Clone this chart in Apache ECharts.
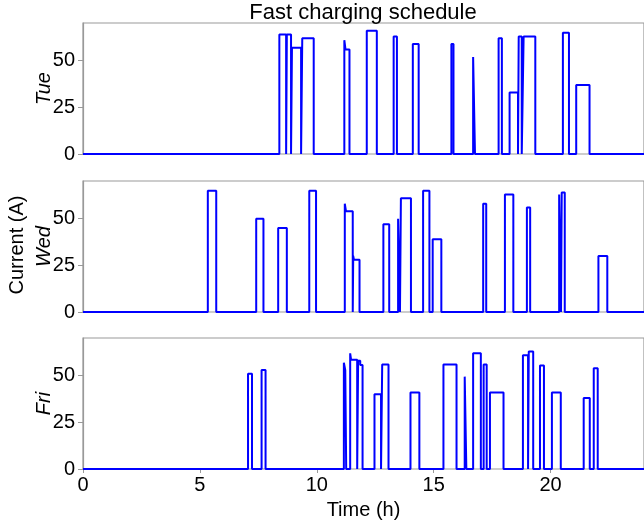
<!DOCTYPE html>
<html>
<head>
<meta charset="utf-8">
<script src="https://cdn.jsdelivr.net/npm/echarts@6/dist/echarts.min.js"></script>
<style>
html,body{margin:0;padding:0;background:#fff;}
#chart{width:644px;height:522px;}
</style>
</head>
<body>
<div id="chart"></div>
<script>
// Step change points: time (h) and current (A) that holds until the next point
const tueTime = [0, 8.40, 8.69, 8.72, 8.90, 8.94, 9.33, 9.38, 9.87, 11.18, 11.23, 11.40, 12.14, 12.57, 13.29, 13.43, 14.11, 14.36, 15.76, 15.85, 16.69, 16.77, 17.78, 17.92, 18.25, 18.61, 18.64, 18.77, 18.85, 19.35, 20.53, 20.79, 21.10, 21.67, 24];
const tueCurrent = [0, 64, 0, 64, 0, 57, 0, 62, 0, 61, 56, 0, 66, 0, 63, 0, 59, 0, 59, 0, 52, 0, 62, 0, 33, 0, 63, 0, 63, 0, 65, 0, 37, 0, 0];

const wedTime = [0, 5.34, 5.70, 7.41, 7.72, 8.35, 8.72, 9.68, 9.97, 11.20, 11.25, 11.54, 11.56, 11.59, 11.83, 12.85, 13.10, 13.48, 13.56, 13.60, 14.03, 14.55, 14.82, 14.96, 15.33, 17.12, 17.25, 18.05, 18.41, 18.99, 19.13, 20.37, 20.45, 20.48, 20.61, 22.05, 22.43, 24];
const wedCurrent = [0, 65, 0, 50, 0, 45, 0, 65, 0, 58, 54, 0, 30, 28, 0, 47, 0, 50, 0, 61, 0, 65, 0, 39, 0, 58, 0, 63, 0, 56, 0, 63, 0, 64, 0, 30, 0, 0];

const friTime = [0, 7.06, 7.23, 7.64, 7.81, 11.16, 11.22, 11.26, 11.43, 11.47, 11.73, 11.77, 11.86, 11.96, 12.47, 12.75, 12.80, 13.07, 14.01, 14.39, 15.42, 15.98, 16.33, 16.40, 16.69, 17.02, 17.14, 17.27, 17.41, 17.99, 18.82, 19.04, 19.07, 19.26, 19.55, 19.72, 20.06, 20.44, 21.42, 21.68, 21.85, 22.02, 24];
const friCurrent = [0, 51, 0, 53, 0, 57, 53, 0, 62, 58.5, 0, 58, 55.7, 0, 40, 0, 56, 0, 41, 0, 56, 0, 49.5, 0, 62, 0, 56, 0, 41, 0, 61, 0, 63, 0, 55.5, 0, 41, 0, 38, 0, 54, 0, 0];

const dayNames = ['Tue', 'Wed', 'Fri'];
const yTicks = [0, 25, 50];
const xTicks = [0, 5, 10, 15, 20];

const FONT = '"Liberation Sans", Arial, sans-serif';
const GREY = '#999999';
const days = [
  {t: tueTime, a: tueCurrent},
  {t: wedTime, a: wedCurrent},
  {t: friTime, a: friCurrent}
];
const grids = [
  {left: 83, right: 0, top: 23, height: 131},
  {left: 83, right: 0, top: 181, height: 131},
  {left: 83, right: 0, top: 338, height: 131}
];

const chart = echarts.init(document.getElementById('chart'), null, {renderer: 'canvas'});
const option = {
  animation: false,
  backgroundColor: '#ffffff',
  title: {
    text: 'Fast charging schedule',
    left: 358, top: -3, textAlign: 'center',
    textStyle: {fontFamily: FONT, fontSize: 22, fontWeight: 'normal', color: '#000'}
  },
  graphic: [{
    type: 'text', x: 17, y: 245, rotation: Math.PI / 2,
    style: {text: 'Current (A)', fontFamily: FONT, fontSize: 20, fill: '#000', align: 'center', verticalAlign: 'middle'}
  }],
  grid: grids.map(g => Object.assign({show: true, borderColor: GREY, borderWidth: 1.2, backgroundColor: 'transparent', containLabel: false, outerBoundsMode: 'none'}, g)),
  xAxis: grids.map((g, i) => ({
    type: 'value', gridIndex: i, min: 0, max: 24, interval: 5,
    axisLine: {show: false},
    axisTick: {show: i === 2, length: 4, lineStyle: {color: GREY}, customValues: xTicks},
    axisLabel: {show: i === 2, customValues: xTicks, fontFamily: FONT, fontSize: 20, color: '#000', margin: 6},
    splitLine: {show: false},
    name: i === 2 ? 'Time (h)' : '', nameLocation: 'middle', nameGap: 31, nameMoveOverlap: false,
    nameTextStyle: {fontFamily: FONT, fontSize: 20, color: '#000', verticalAlign: 'top', padding: [0, 0, 0, 0]}
  })),
  yAxis: grids.map((g, i) => ({
    type: 'value', gridIndex: i, min: 0, max: 70.2, interval: 25,
    axisLine: {show: true, lineStyle: {color: GREY, width: 1.2}},
    axisTick: {show: true, length: 5, lineStyle: {color: GREY}, customValues: yTicks},
    axisLabel: {customValues: yTicks, fontFamily: FONT, fontSize: 20, color: '#000', margin: 8},
    splitLine: {show: false},
    name: dayNames[i], nameLocation: 'middle', nameGap: 29, nameRotate: 90, nameMoveOverlap: false,
    nameTextStyle: {fontFamily: FONT, fontSize: 20, fontStyle: 'italic', color: '#000'}
  })),
  series: days.map((d, i) => ({
    type: 'line', xAxisIndex: i, yAxisIndex: i, step: 'end',
    showSymbol: false, symbol: 'none', clip: true,
    lineStyle: {color: '#0000ff', width: 2},
    data: d.t.map((t, k) => [t, d.a[k]])
  }))
};
chart.setOption(option);
</script>
</body>
</html>
